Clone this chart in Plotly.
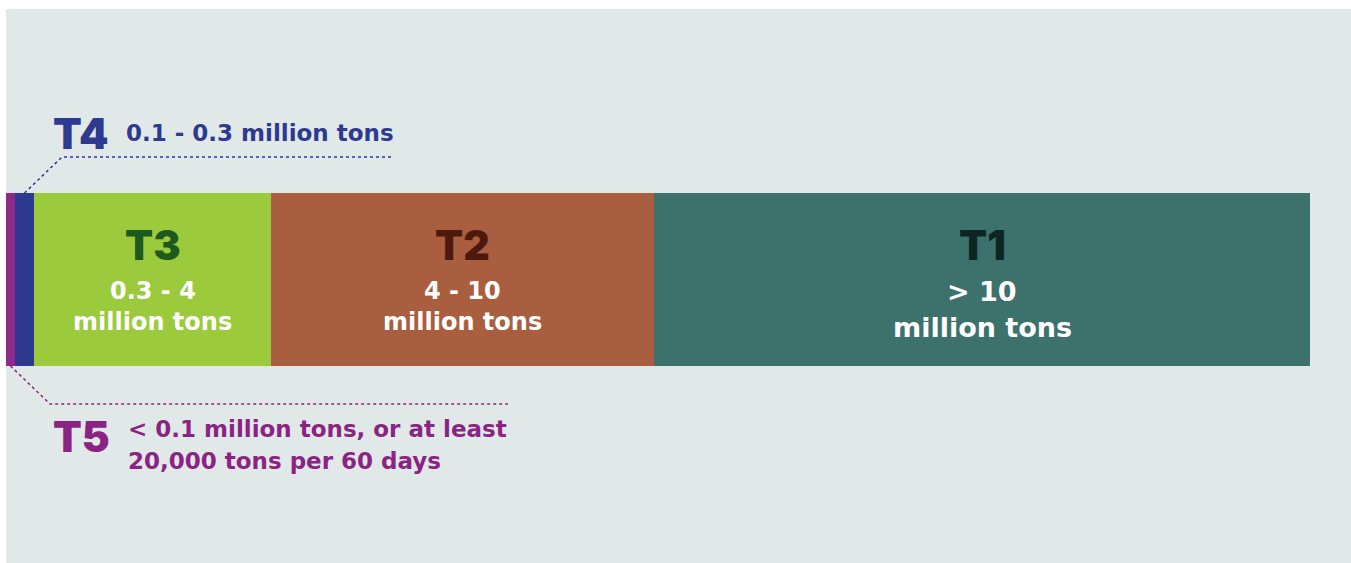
import plotly.graph_objects as go

tiers = ["T5", "T4", "T3", "T2", "T1"]
widths = [9, 19, 237, 383, 656]  # illustrative segment widths
colors = ["#8e2a8c", "#2d3a90", "#9bca3c", "#a95e3f", "#3c716c"]
range_line1 = ["< 0.1 million tons, or at least", "0.1 - 0.3 million tons", "0.3 - 4", "4 - 10", "> 10"]
range_line2 = ["20,000 tons per 60 days", "", "million tons", "million tons", "million tons"]
tier_label_colors = ["#8a2384", "#2d3a90", "#1e5a1c", "#4e190d", "#0d2624"]

BG = "#e0e9e8"
TFONT = "Inter"
SFONT = "DejaVu Sans"
BAR_Y = 270.5
BAR_H = 173

fig = go.Figure()
base = 0
starts = []
for t, w, c in zip(tiers, widths, colors):
    starts.append(base)
    fig.add_trace(go.Bar(
        x=[w], y=[BAR_Y], base=[base], orientation="h", width=BAR_H,
        marker=dict(color=c, line=dict(width=0)), name=t,
        hoverinfo="name", showlegend=False,
    ))
    base += w

centers = [s + w / 2 for s, w in zip(starts, widths)]


def tf(size, color):
    return dict(family=TFONT, size=size, color=color, weight=900)


def sf(size, color):
    return dict(family=SFONT, size=size, color=color, weight="bold")


ann = []
# inside labels for T3, T2, T1
for i in (2, 3, 4):
    big = i == 4
    ann.append(dict(x=centers[i], y=236, text=tiers[i], showarrow=False,
                    font=tf(41, tier_label_colors[i]), xanchor="center", yanchor="middle"))
    ann.append(dict(x=centers[i], y=282, text=range_line1[i], showarrow=False,
                    font=sf(27 if big else 24, "white"), xanchor="center", yanchor="middle"))
    ann.append(dict(x=centers[i], y=318 if big else 313, text=range_line2[i], showarrow=False,
                    font=sf(27 if big else 24, "white"), xanchor="center", yanchor="middle"))

# T4 callout (above)
ann.append(dict(x=45, y=124, text="T4", showarrow=False,
                font=tf(42, colors[1]), xanchor="left", yanchor="middle"))
ann.append(dict(x=118, y=124, text=range_line1[1], showarrow=False,
                font=sf(23, colors[1]), xanchor="left", yanchor="middle"))
# T5 callout (below)
ann.append(dict(x=45, y=427, text="T5", showarrow=False,
                font=tf(42, tier_label_colors[0]), xanchor="left", yanchor="middle"))
ann.append(dict(x=120, y=420, text=range_line1[0], showarrow=False,
                font=sf(23, tier_label_colors[0]), xanchor="left", yanchor="middle"))
ann.append(dict(x=120, y=452, text=range_line2[0], showarrow=False,
                font=sf(23, tier_label_colors[0]), xanchor="left", yanchor="middle"))

top = BAR_Y - BAR_H / 2
bot = BAR_Y + BAR_H / 2
# leader lines
fig.add_trace(go.Scatter(x=[centers[1], 56, 386], y=[top, 148, 148], mode="lines",
                         line=dict(color=colors[1], width=1.5, dash="dot"),
                         hoverinfo="skip", showlegend=False))
fig.add_trace(go.Scatter(x=[centers[0], 44, 502], y=[bot, 395, 395], mode="lines",
                         line=dict(color=tier_label_colors[0], width=1.5, dash="dot"),
                         hoverinfo="skip", showlegend=False))

fig.update_layout(
    width=1351, height=563,
    margin=dict(l=6, r=0, t=9, b=0),
    paper_bgcolor="white", plot_bgcolor=BG,
    barmode="overlay", bargap=0,
    xaxis=dict(range=[0, 1345], visible=False, fixedrange=True),
    yaxis=dict(range=[554, 0], visible=False, fixedrange=True),
    annotations=ann,
)
fig.write_html("out.html")
